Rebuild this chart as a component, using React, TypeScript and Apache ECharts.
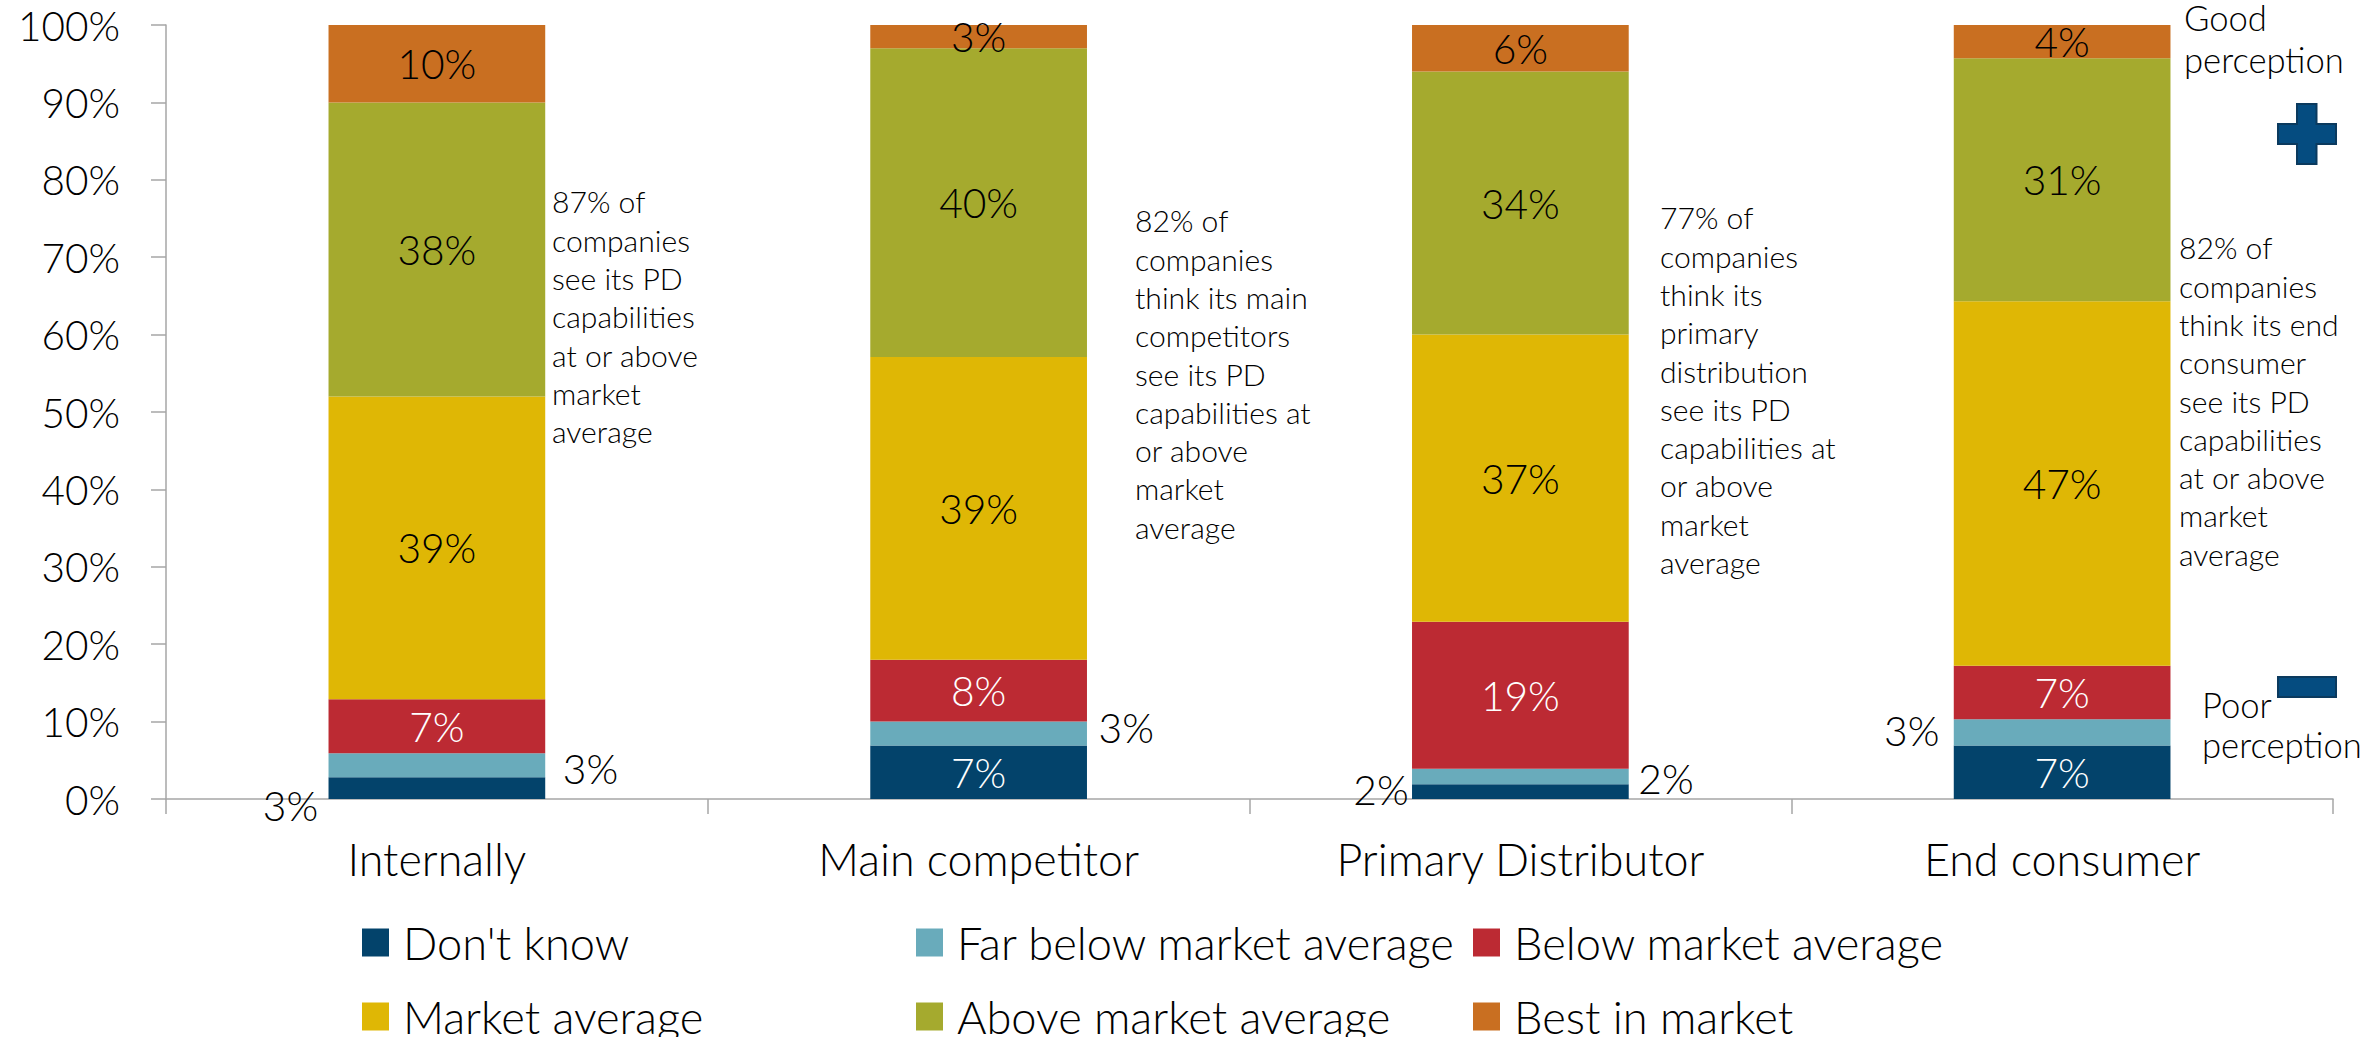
import React, { useEffect, useRef } from 'react';
import * as echarts from 'echarts';

const categories = ['Internally', 'Main competitor', 'Primary Distributor', 'End consumer'];
const seriesNames = [
  "Don't know",
  'Far below market average',
  'Below market average',
  'Market average',
  'Above market average',
  'Best in market',
];
const dontKnow = [2.8, 6.9, 1.9, 6.9];
const farBelow = [3.1, 3.1, 2.0, 3.4];
const belowAvg = [7.0, 8.0, 19.0, 6.9];
const marketAvg = [39.1, 39.1, 37.1, 47.1];
const aboveAvg = [38.0, 39.9, 34.0, 31.4];
const bestInMarket = [10.0, 3.0, 6.0, 4.3];
const seriesValues = [dontKnow, farBelow, belowAvg, marketAvg, aboveAvg, bestInMarket];

const notes = [
  '87% of\ncompanies\nsee its PD\ncapabilities\nat or above\nmarket\naverage',
  '82% of\ncompanies\nthink its main\ncompetitors\nsee its PD\ncapabilities at\nor above\nmarket\naverage',
  '77% of\ncompanies\nthink its\nprimary\ndistribution\nsee its PD\ncapabilities at\nor above\nmarket\naverage',
  '82% of\ncompanies\nthink its end\nconsumer\nsee its PD\ncapabilities\nat or above\nmarket\naverage',
];
const goodText = ['Good', 'perception'];
const poorText = ['Poor', 'perception'];

const colors = ['#03436b', '#69abbb', '#bc2a33', '#dfb705', '#a5aa2e', '#c96f21'];
const whiteLabelSeries = [0, 2];

// label placements for the small segments (offset relative to the bar segment's top-left)
const outsideLabelPos: Record<string, [number, number]> = {
  '0-0': [-38, 28],
  '0-2': [-31, 5],
  '1-0': [262, 15],
  '1-1': [256, 6],
  '1-2': [254, 10],
  '1-3': [-42, 11],
};

const FONT = 'Lato';
const WEIGHT = 300;
const W = 2371;
const H = 1037;
const CENTRAL = 0.387; // central baseline offset above alphabetic baseline (em)

function fitSize(text: string, targetWidth: number, fallback: number): number {
  try {
    const c = document.createElement('canvas');
    const ctx = c.getContext('2d');
    if (!ctx) return fallback;
    ctx.font = `${WEIGHT} 100px ${FONT}`;
    const w = ctx.measureText(text).width;
    if (!w) return fallback;
    const s = (100 * targetWidth) / w;
    return Math.max(fallback * 0.75, Math.min(fallback * 1.35, s));
  } catch (e) {
    return fallback;
  }
}

export default function App() {
  const ref = useRef<HTMLDivElement>(null);

  useEffect(() => {
    if (!ref.current) return;
    const chart = echarts.init(ref.current, null, { renderer: 'svg', width: W, height: H });

    const fAxis = fitSize('100%', 102, 38);
    const fData = fitSize('38%', 79, 40);
    const fCat = fitSize('Internally', 179, 44);
    const fLegend = fitSize('Far below market average', 499, 44);
    const fNote = fitSize('companies', 138, 28);
    const fSide = fitSize('perception', 160, 34);

    const series = seriesValues.map((vals, si) => ({
      name: seriesNames[si],
      type: 'bar',
      stack: 'total',
      barWidth: '40%',
      itemStyle: { color: colors[si] },
      label: {
        show: true,
        position: 'inside',
        fontFamily: FONT,
        fontWeight: WEIGHT,
        fontSize: fData,
        color: whiteLabelSeries.includes(si) ? '#ffffff' : '#000000',
        formatter: (p: any) => Math.round(p.value) + '%',
      },
      data: vals.map((v, ci) => {
        const pos = outsideLabelPos[`${si}-${ci}`];
        if (!pos) return v;
        return {
          value: v,
          label: { position: pos, align: 'center', verticalAlign: 'middle', color: '#000000' },
        };
      }),
    }));

    const iconH = 28;
    const legendSquareTops = [928.5, 1002.5];
    const legendCols = [362, 916, 1473];
    const textHalf = Math.max(fLegend, iconH) / 2;

    const legends = seriesNames.map((n, i) => ({
      data: [n],
      left: legendCols[i % 3],
      top: legendSquareTops[Math.floor(i / 3)] + iconH / 2 - textHalf,
      padding: 0,
      itemWidth: 27,
      itemHeight: iconH,
      icon: 'rect',
      selectedMode: false,
      textStyle: {
        fontFamily: FONT,
        fontWeight: WEIGHT,
        fontSize: fLegend,
        lineHeight: fLegend,
        color: '#000000',
        padding: [0, 0, 0, 9],
      },
    }));

    const noteX = [552, 1135, 1660, 2179];
    const noteBaseline = [213, 232, 229, 259];
    const noteLH = 38.3;

    const graphics: any[] = notes.map((t, i) => ({
      type: 'text',
      x: noteX[i],
      y: noteBaseline[i] - CENTRAL * fNote - noteLH / 2,
      style: {
        text: t,
        fontFamily: FONT,
        fontWeight: WEIGHT,
        fontSize: fNote,
        lineHeight: noteLH,
        fill: '#000000',
        align: 'left',
        verticalAlign: 'top',
      },
    }));

    const sideLH = 30;
    const sideLines = [
      { text: goodText[0], x: 2184, baseline: 31 },
      { text: goodText[1], x: 2184, baseline: 72.7 },
      { text: poorText[0], x: 2202, baseline: 718 },
      { text: poorText[1], x: 2202, baseline: 758 },
    ];
    sideLines.forEach((l) => {
      graphics.push({
        type: 'text',
        x: l.x,
        y: l.baseline - CENTRAL * fSide - sideLH / 2,
        style: {
          text: l.text,
          fontFamily: FONT,
          fontWeight: WEIGHT,
          fontSize: fSide,
          lineHeight: sideLH,
          fill: '#000000',
          align: 'left',
          verticalAlign: 'top',
        },
      });
    });

    graphics.push({
      type: 'polygon',
      shape: {
        points: [
          [2297, 104], [2316.5, 104], [2316.5, 124], [2336, 124], [2336, 144], [2316.5, 144],
          [2316.5, 164], [2297, 164], [2297, 144], [2278, 144], [2278, 124], [2297, 124],
        ],
      },
      style: { fill: '#054c80', stroke: '#0b3a5e', lineWidth: 2 },
    });
    graphics.push({
      type: 'rect',
      shape: { x: 2278, y: 677, width: 58, height: 20 },
      style: { fill: '#054c80', stroke: '#0b3a5e', lineWidth: 2 },
    });

    const catMargin = 876 - 799 - fCat * (0.5 + CENTRAL);

    chart.setOption({
      animation: false,
      backgroundColor: '#ffffff',
      grid: { left: 166, right: 38, top: 25, bottom: 238, containLabel: false },
      legend: legends,
      xAxis: {
        type: 'category',
        data: categories,
        axisLine: { show: true, lineStyle: { color: '#a6a6a6', width: 1.5 } },
        axisTick: { show: true, length: 15, lineStyle: { color: '#a6a6a6', width: 1.5 } },
        axisLabel: {
          fontFamily: FONT,
          fontWeight: WEIGHT,
          fontSize: fCat,
          lineHeight: fCat,
          color: '#000000',
          margin: catMargin,
        },
      },
      yAxis: {
        type: 'value',
        min: 0,
        max: 100,
        interval: 10,
        splitLine: { show: false },
        axisLine: { show: true, lineStyle: { color: '#a6a6a6', width: 1.5 } },
        axisTick: { show: true, length: 15, lineStyle: { color: '#a6a6a6', width: 1.5 } },
        axisLabel: {
          fontFamily: FONT,
          fontWeight: WEIGHT,
          fontSize: fAxis,
          color: '#000000',
          margin: 46,
          formatter: '{value}%',
        },
      },
      graphic: graphics,
      series,
    });

    return () => chart.dispose();
  }, []);

  return (
    <div
      ref={ref}
      style={{ position: 'absolute', left: 0, top: 0, width: W, height: H, background: '#fff' }}
    />
  );
}
